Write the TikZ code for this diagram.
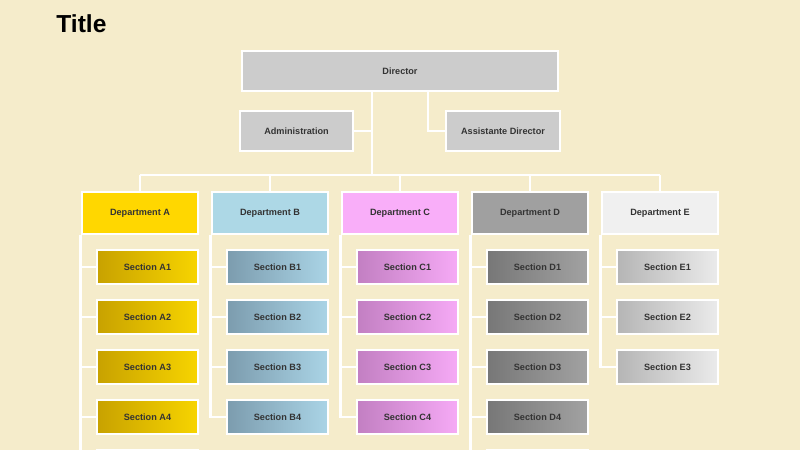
\documentclass[tikz,border=0pt]{standalone}
\usepackage{fontspec}
\setmainfont{Liberation Sans}
\definecolor{paper}{HTML}{F5ECCB}
\definecolor{boss}{HTML}{CCCCCC}
\definecolor{ink}{HTML}{333333}
\tikzset{
  box/.style={draw=white,line width=1.6pt,rectangle,font=\fontsize{5.2}{6}\selectfont\bfseries,text=ink},
  topbox/.style={box,fill=boss,minimum height=0.8cm},
  deptbox/.style={box,minimum width=2.32cm,minimum height=0.84cm},
  secbox/.style={box,minimum width=2.02cm,minimum height=0.68cm},
  wire/.style={draw=white,line width=1.6pt}
}
\begin{document}
\begin{tikzpicture}
			\fill[paper] (0,0) rectangle (16,-9);
			\clip (0,0) rectangle (16,-9);
			\node[font=\fontsize{14}{16}\selectfont\bfseries,anchor=west,inner sep=0pt] (title) at (1.12,-0.48) {Title};

			% top of the tree
			\node[topbox,minimum width=6.32cm] (director) at (8,-1.42) {Director};
			\node[topbox,minimum width=2.26cm] (admin) at (5.93,-2.62) {Administration};
			\node[topbox,minimum width=2.28cm] (assist) at (10.06,-2.62) {Assistante Director};
			\coordinate (bus) at (7.44,-3.5);
			\draw[wire] (director.south -| bus) -- (bus);
			\draw[wire] (admin.east) -- (admin.east -| bus);
			\draw[wire] (director.south -| 8.56,0) |- (assist.west);
			\draw[wire] (2.8,-3.5) -- (13.2,-3.5);

			% departments and their sections
			\foreach \d/\x/\n/\dc/\lc/\rc in {
				A/2.8/5/FFD700/C8A200/F7D400,
				B/5.4/4/ADD8E6/7C9CAE/AAD4E6,
				C/8/4/F9AEF9/C27FC2/F6AAF6,
				D/10.6/5/A0A0A0/777777/A2A2A2,
				E/13.2/3/F0F0F0/B5B5B5/EBEBEB}{
				\definecolor{dfill}{HTML}{\dc}
				\definecolor{sleft}{HTML}{\lc}
				\definecolor{sright}{HTML}{\rc}
				\node[deptbox,fill=dfill] (dept\d) at (\x,-4.26) {Department \d};
				\draw[wire] (\x,-3.5) -- (dept\d.north);
				\draw[wire] (dept\d.south west) -- ++(0,{-0.66-(\n-1)*1});
				\foreach \s in {1,...,\n}{
					\node[secbox,left color=sleft,right color=sright] (sec\d\s) at ({\x+0.15},{-4.34-\s}) {Section \d\s};
					\draw[wire] (sec\d\s.west) -- (sec\d\s.west -| dept\d.south west);
				}
			}
\end{tikzpicture}
\end{document}
